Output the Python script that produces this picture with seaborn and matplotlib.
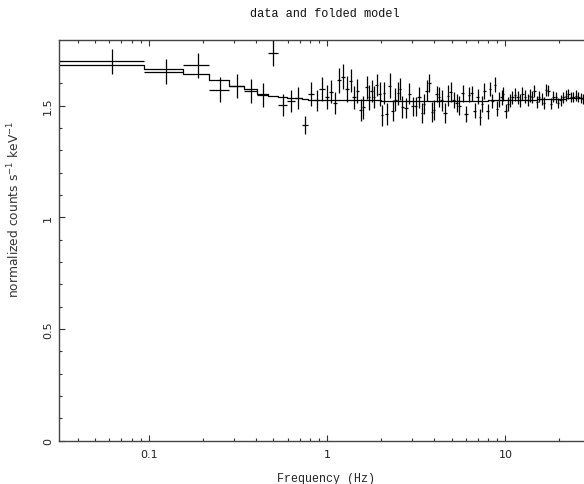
import numpy as np
import pandas as pd
import seaborn as sns
import matplotlib
matplotlib.use("Agg")
import matplotlib.pyplot as plt
from matplotlib.ticker import LogLocator, MultipleLocator, NullFormatter, FuncFormatter

# data points (Hz, normalized counts s^-1 keV^-1)
freq = [0.0625, 0.125, 0.1875, 0.25, 0.3125, 0.375, 0.4375, 0.5, 0.5625,
        0.625, 0.6875, 0.75, 0.8125, 0.875, 0.9375, 1.0, 1.046, 1.106, 1.17,
        1.232, 1.286, 1.354, 1.414, 1.476, 1.548, 1.596, 1.665, 1.724, 1.776,
        1.839, 1.895, 1.978, 2.022, 2.084, 2.157, 2.251, 2.330, 2.402, 2.507,
        2.562, 2.640, 2.768, 2.890, 3.017, 3.150, 3.275, 3.419, 3.509, 3.616,
        3.727, 3.890, 3.992, 4.114, 4.258, 4.389, 4.582, 4.784, 4.931, 5.148,
        5.328, 5.491, 5.757, 6.010, 6.275, 6.467, 6.751, 6.988, 7.203, 7.424,
        7.618, 7.953, 8.196, 8.447, 8.742, 8.933, 9.206, 9.529, 9.736, 10.03,
        10.30, 10.61, 10.94, 11.32, 11.72, 12.08, 12.45, 12.88, 13.33, 13.74,
        14.16, 14.54, 14.98, 15.44, 15.98, 16.47, 16.90, 17.42, 18.03, 18.58,
        19.15, 19.82, 20.42, 21.14, 21.79, 22.55, 23.25, 24.06, 24.80, 25.67,
        26.57, 27.38]
rate = [1.698, 1.652, 1.680, 1.571, 1.589, 1.565, 1.546, 1.735, 1.503,
        1.520, 1.533, 1.414, 1.552, 1.523, 1.574, 1.540, 1.563, 1.511, 1.614,
        1.629, 1.574, 1.611, 1.537, 1.567, 1.481, 1.493, 1.582, 1.537, 1.564,
        1.540, 1.592, 1.552, 1.456, 1.555, 1.463, 1.589, 1.478, 1.526, 1.555,
        1.574, 1.493, 1.490, 1.552, 1.496, 1.496, 1.537, 1.466, 1.508, 1.567,
        1.600, 1.471, 1.481, 1.552, 1.537, 1.523, 1.466, 1.545, 1.560, 1.526,
        1.511, 1.500, 1.555, 1.463, 1.549, 1.555, 1.478, 1.540, 1.449, 1.508,
        1.564, 1.475, 1.574, 1.520, 1.594, 1.486, 1.526, 1.537, 1.552, 1.475,
        1.508, 1.523, 1.537, 1.549, 1.537, 1.523, 1.552, 1.540, 1.526, 1.545,
        1.537, 1.564, 1.515, 1.540, 1.530, 1.511, 1.570, 1.567, 1.508, 1.540,
        1.537, 1.511, 1.523, 1.537, 1.545, 1.552, 1.540, 1.537, 1.545, 1.537,
        1.534, 1.530]
rate_err = [0.057, 0.056, 0.056, 0.056, 0.054, 0.052, 0.054, 0.057, 0.050,
            0.048, 0.050, 0.040, 0.053, 0.047, 0.053, 0.054, 0.050, 0.050, 0.056,
            0.056, 0.059, 0.052, 0.052, 0.054, 0.048, 0.052, 0.052, 0.056, 0.049,
            0.049, 0.049, 0.055, 0.048, 0.050, 0.048, 0.056, 0.048, 0.052, 0.052,
            0.050, 0.048, 0.044, 0.047, 0.041, 0.044, 0.048, 0.044, 0.044, 0.048,
            0.041, 0.044, 0.044, 0.037, 0.044, 0.046, 0.046, 0.048, 0.044, 0.037,
            0.041, 0.041, 0.037, 0.037, 0.035, 0.033, 0.033, 0.033, 0.037, 0.037,
            0.035, 0.033, 0.033, 0.033, 0.035, 0.033, 0.033, 0.033, 0.030, 0.030,
            0.030, 0.030, 0.030, 0.030, 0.029, 0.029, 0.029, 0.028, 0.028, 0.028,
            0.027, 0.027, 0.027, 0.026, 0.026, 0.026, 0.026, 0.025, 0.025, 0.025,
            0.025, 0.024, 0.024, 0.024, 0.024, 0.023, 0.023, 0.023, 0.023, 0.022,
            0.022, 0.022]

# folded model (step values over frequency bins)
model_edges = [0.03125, 0.09375, 0.15625, 0.21875, 0.28125, 0.34375, 0.40625,
               0.46875, 0.53125, 0.59375, 0.65625, 0.71875, 0.78125, 2.0, 8.0,
               15.0, 22.0, 30.0]
model_rate = [1.682, 1.666, 1.641, 1.614, 1.589, 1.574, 1.552, 1.545, 1.540,
              1.535, 1.532, 1.528, 1.524, 1.521, 1.525, 1.530, 1.535]

sns.set_style("ticks")
plt.rcParams["font.family"] = ["DejaVu Sans"]

# bin widths: half way to the neighbouring bins
f = np.array(freq)
mids = (f[1:] + f[:-1]) / 2
lo = np.concatenate([[2 * f[0] - mids[0]], mids])
hi = np.concatenate([mids, [2 * f[-1] - mids[-1]]])

model_df = pd.DataFrame({"freq": model_edges,
                         "rate": model_rate + [model_rate[-1]]})

fig = plt.figure(figsize=(5.84, 4.85), dpi=100)
ax = fig.add_axes([0.1007, 0.0893, 0.9103, 0.8268])

sns.lineplot(data=model_df, x="freq", y="rate", drawstyle="steps-post",
             color="black", lw=0.9, estimator=None, sort=False, ax=ax)
ax.errorbar(f, rate, xerr=[f - lo, hi - f], yerr=rate_err, fmt="none",
            ecolor="black", elinewidth=0.9, capsize=0)

ax.set_xscale("log")
ax.set_xlim(0.03125, 30)
ax.set_ylim(0, 1.795)

ax.xaxis.set_major_locator(LogLocator(base=10))
ax.xaxis.set_minor_locator(LogLocator(base=10, subs=np.arange(2, 10)))
ax.xaxis.set_major_formatter(FuncFormatter(lambda v, p: f"{v:g}"))
ax.xaxis.set_minor_formatter(NullFormatter())
ax.yaxis.set_major_locator(MultipleLocator(0.5))
ax.yaxis.set_minor_locator(MultipleLocator(0.1))
ax.yaxis.set_major_formatter(FuncFormatter(lambda v, p: f"{v:g}"))

ax.tick_params(which="both", direction="in", top=True, right=True,
               color="#333333", width=0.8, labelsize=8, labelcolor="#222222")
ax.tick_params(which="major", length=4.5)
ax.tick_params(which="minor", length=2.4)
ax.tick_params(axis="x", which="major", pad=6)
ax.tick_params(axis="y", which="major", pad=4)
for lab in ax.get_yticklabels():
    lab.set_rotation(90)
    lab.set_va("center")
for sp in ax.spines.values():
    sp.set_color("#444444")
    sp.set_linewidth(1.0)

ax.set_xlabel("Frequency (Hz)", family="Liberation Mono", fontsize=8.4,
              color="#222222")
ax.xaxis.set_label_coords(0.503, -0.078)
ax.set_ylabel("normalized counts s$^{-1}$ keV$^{-1}$", fontsize=8.8,
              color="#333333")
ax.yaxis.set_label_coords(-0.069, 0.58)

fig.text(0.5557, 1 - 14 / 485, "data and folded model", family="Liberation Mono",
         fontsize=8.6, ha="center", va="center", color="#111111")

fig.savefig("out.png", dpi=100)
